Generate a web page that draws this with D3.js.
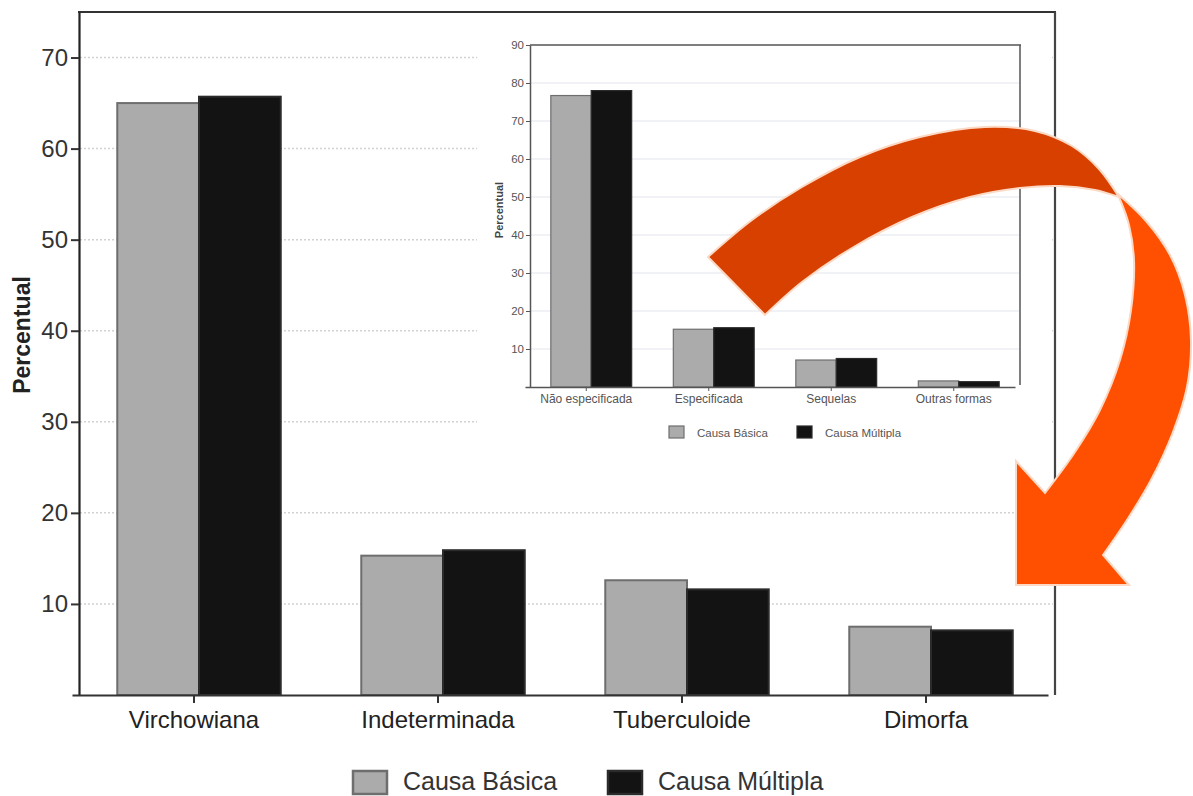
<!DOCTYPE html>
<html><head><meta charset="utf-8">
<script src="https://cdn.jsdelivr.net/npm/d3@7"></script>
<style>body{margin:0;background:#fff}svg{display:block;font-family:"Liberation Sans",Arial,sans-serif}</style>
</head><body><svg id="c" width="1193" height="796"></svg>
<script>
// ---- main chart data ----
const categories = ["Virchowiana", "Indeterminada", "Tuberculoide", "Dimorfa"];
const seriesNames = ["Causa Básica", "Causa Múltipla"];
const causaBasica = [65.0, 15.3, 12.6, 7.5];
const causaMultipla = [65.7, 15.9, 11.6, 7.1];
const yTicks = [10, 20, 30, 40, 50, 60, 70];

// ---- inset chart data ----
const insetCategories = ["Não especificada", "Especificada", "Sequelas", "Outras formas"];
const insetBasica = [76.7, 15.2, 7.1, 1.6];
const insetMultipla = [78.0, 15.6, 7.5, 1.4];
const insetTicks = [10, 20, 30, 40, 50, 60, 70, 80, 90];

// ---- decorative arrow outline (shape definition) ----
const arrowDarkOuter = [[708,257],[752,220],[802,187],[860,157],[920,137],[985,127],[1035,131],[1072,146],[1099,169],[1119,197]];
const arrowDarkInner = [[1119,197],[1095,190],[1060,186],[1020,188],[970,197],[912,217],[852,248],[802,282],[765,315]];
const arrowBrightOuter = [[1119,195],[1146,221],[1170,255],[1185,295],[1191,340],[1187,387],[1173,432],[1151,480],[1127,520],[1103,555]];
const arrowHead = [[1129,585],[1016,585],[1016,461],[1045,493]];
const arrowBrightInner = [[1045,493],[1075,452],[1100,410],[1120,360],[1131,310],[1134,260],[1129,225],[1119,197]];

const fills = ["#ababab", "#131313"];
const strokes = ["#6e6e6e", "#2b2b2b"];

const svg = d3.select("#c");

// ===== MAIN CHART =====
const y = d3.scaleLinear().domain([0, 75]).range([695, 12]);
const x = d3.scaleBand().domain(categories).range([72, 1048]).padding(0);
const pairFrac = 0.67, shift = 5;
const xs = d3.scaleBand().domain(seriesNames).range([0, x.bandwidth() * pairFrac]);

// gridlines
svg.append("g").selectAll("line").data(yTicks).join("line")
  .attr("x1", 80).attr("x2", 1053)
  .attr("y1", d => y(d)).attr("y2", d => y(d))
  .attr("stroke", "#d2d2d2").attr("stroke-width", 1.5).attr("stroke-dasharray", "2,2");

// inset background
svg.append("rect").attr("x", 477).attr("y", 22).attr("width", 573).attr("height", 440).attr("fill", "#fff");

const mainData = categories.map((c, i) => ({c, vals: [causaBasica[i], causaMultipla[i]]}));
const g = svg.append("g");
mainData.forEach(d => {
  const x0 = x(d.c) + x.bandwidth() / 2 + shift - xs.range()[1] / 2;
  g.selectAll(null).data(d.vals).join("rect")
    .attr("x", (v, j) => x0 + xs(seriesNames[j]))
    .attr("y", v => y(v))
    .attr("width", xs.bandwidth())
    .attr("height", v => y(0) - y(v))
    .attr("fill", (v, j) => fills[j])
    .attr("stroke", (v, j) => strokes[j])
    .attr("stroke-width", 2);
});

// frame
svg.append("line").attr("x1", 78).attr("x2", 1056).attr("y1", 12).attr("y2", 12).attr("stroke", "#333").attr("stroke-width", 2.2);
svg.append("line").attr("x1", 1055).attr("x2", 1055).attr("y1", 12).attr("y2", 695).attr("stroke", "#444").attr("stroke-width", 2.2);

// axes
const ya = svg.append("g").attr("transform", "translate(79,0)")
  .call(d3.axisLeft(y).tickValues(yTicks).tickSize(8).tickSizeOuter(0).tickPadding(3));
ya.select(".domain").attr("stroke", "#222").attr("stroke-width", 2.2);
ya.selectAll(".tick line").attr("stroke", "#333").attr("stroke-width", 2);
ya.selectAll(".tick text").attr("font-size", 24).attr("fill", "#333").attr("font-family", "Liberation Sans, Arial, sans-serif");

const xa = svg.append("g").attr("transform", "translate(0,695)")
  .call(d3.axisBottom(x).tickSize(8).tickSizeOuter(0).tickPadding(8));
xa.select(".domain").attr("stroke", "#333").attr("stroke-width", 2.2);
xa.selectAll(".tick line").attr("stroke", "#333").attr("stroke-width", 2);
xa.selectAll(".tick text").attr("font-size", 24).attr("fill", "#222").attr("font-family", "Liberation Sans, Arial, sans-serif");

svg.append("text").attr("transform", "translate(30,335) rotate(-90)")
  .attr("text-anchor", "middle").attr("font-size", 23).attr("font-weight", "bold").attr("fill", "#222")
  .text("Percentual");

// main legend
const leg = svg.append("g");
const legX = [353, 608];
seriesNames.forEach((s, j) => {
  leg.append("rect").attr("x", legX[j]).attr("y", 771).attr("width", 34).attr("height", 23)
    .attr("fill", fills[j]).attr("stroke", strokes[j]).attr("stroke-width", 2.5);
  leg.append("text").attr("x", legX[j] + 50).attr("y", 790).attr("font-size", 25).attr("fill", "#333").text(s);
});

// ===== INSET CHART =====
const iy = d3.scaleLinear().domain([0, 90]).range([387, 45]);
const ix = d3.scaleBand().domain(insetCategories).range([525, 1015]).padding(0);
const ixs = d3.scaleBand().domain(seriesNames).range([0, ix.bandwidth() * 0.66]);

svg.append("g").selectAll("line").data(insetTicks.slice(0, -1)).join("line")
  .attr("x1", 531).attr("x2", 1019)
  .attr("y1", d => iy(d)).attr("y2", d => iy(d))
  .attr("stroke", "#eceef3").attr("stroke-width", 1.5);

const insetData = insetCategories.map((c, i) => ({c, vals: [insetBasica[i], insetMultipla[i]]}));
const ig = svg.append("g");
insetData.forEach(d => {
  const x0 = ix(d.c) + ix.bandwidth() / 2 + 5 - ixs.range()[1] / 2;
  ig.selectAll(null).data(d.vals).join("rect")
    .attr("x", (v, j) => x0 + ixs(seriesNames[j]))
    .attr("y", v => iy(v))
    .attr("width", ixs.bandwidth())
    .attr("height", v => iy(0) - iy(v))
    .attr("fill", (v, j) => fills[j])
    .attr("stroke", (v, j) => strokes[j])
    .attr("stroke-width", 1.2);
});

svg.append("line").attr("x1", 530).attr("x2", 1021).attr("y1", 45).attr("y2", 45).attr("stroke", "#555").attr("stroke-width", 1.5);
svg.append("line").attr("x1", 1020).attr("x2", 1020).attr("y1", 45).attr("y2", 385).attr("stroke", "#555").attr("stroke-width", 1.5);

const iya = svg.append("g").attr("transform", "translate(530,0)")
  .call(d3.axisLeft(iy).tickValues(insetTicks).tickSize(4).tickSizeOuter(0).tickPadding(2));
iya.select(".domain").attr("stroke", "#555").attr("stroke-width", 1.5);
iya.selectAll(".tick line").attr("stroke", "#555");
iya.selectAll(".tick text").attr("font-size", 11.5).attr("fill", "#555").attr("font-family", "Liberation Sans, Arial, sans-serif");

const ixa = svg.append("g").attr("transform", "translate(0,387)")
  .call(d3.axisBottom(ix).tickSize(4).tickSizeOuter(0).tickPadding(3));
ixa.select(".domain").attr("stroke", "#555").attr("stroke-width", 1.5);
ixa.selectAll(".tick line").attr("stroke", "#555");
ixa.selectAll(".tick text").attr("font-size", 12).attr("fill", "#555").attr("font-family", "Liberation Sans, Arial, sans-serif");

svg.append("text").attr("transform", "translate(503,210) rotate(-90)")
  .attr("text-anchor", "middle").attr("font-size", 11).attr("font-weight", "bold").attr("fill", "#444")
  .text("Percentual");

const ileg = svg.append("g");
const ilegX = [669, 797];
seriesNames.forEach((s, j) => {
  ileg.append("rect").attr("x", ilegX[j]).attr("y", 426).attr("width", 15).attr("height", 12)
    .attr("fill", fills[j]).attr("stroke", strokes[j]).attr("stroke-width", 1.2);
  ileg.append("text").attr("x", ilegX[j] + 28).attr("y", 436.5).attr("font-size", 11.5).attr("fill", "#555").text(s);
});

// ===== ARROW (decoration) =====
const curve = d3.line().curve(d3.curveCatmullRom.alpha(0.5));
const darkPath = curve(arrowDarkOuter) + curve(arrowDarkInner).replace(/^M/, "L") + "Z";
const brightPath = curve(arrowBrightOuter) + "L" + arrowHead.map(p => p.join(",")).join("L")
  + curve(arrowBrightInner).replace(/^M/, "L") + "Z";
svg.append("path").attr("d", darkPath).attr("fill", "#d84000").attr("stroke", "#fbd9c4").attr("stroke-width", 2).attr("stroke-linejoin", "round");
svg.append("path").attr("d", brightPath).attr("fill", "#ff4f00").attr("stroke", "#fbd9c4").attr("stroke-width", 2).attr("stroke-linejoin", "miter");
</script>
</body></html>
